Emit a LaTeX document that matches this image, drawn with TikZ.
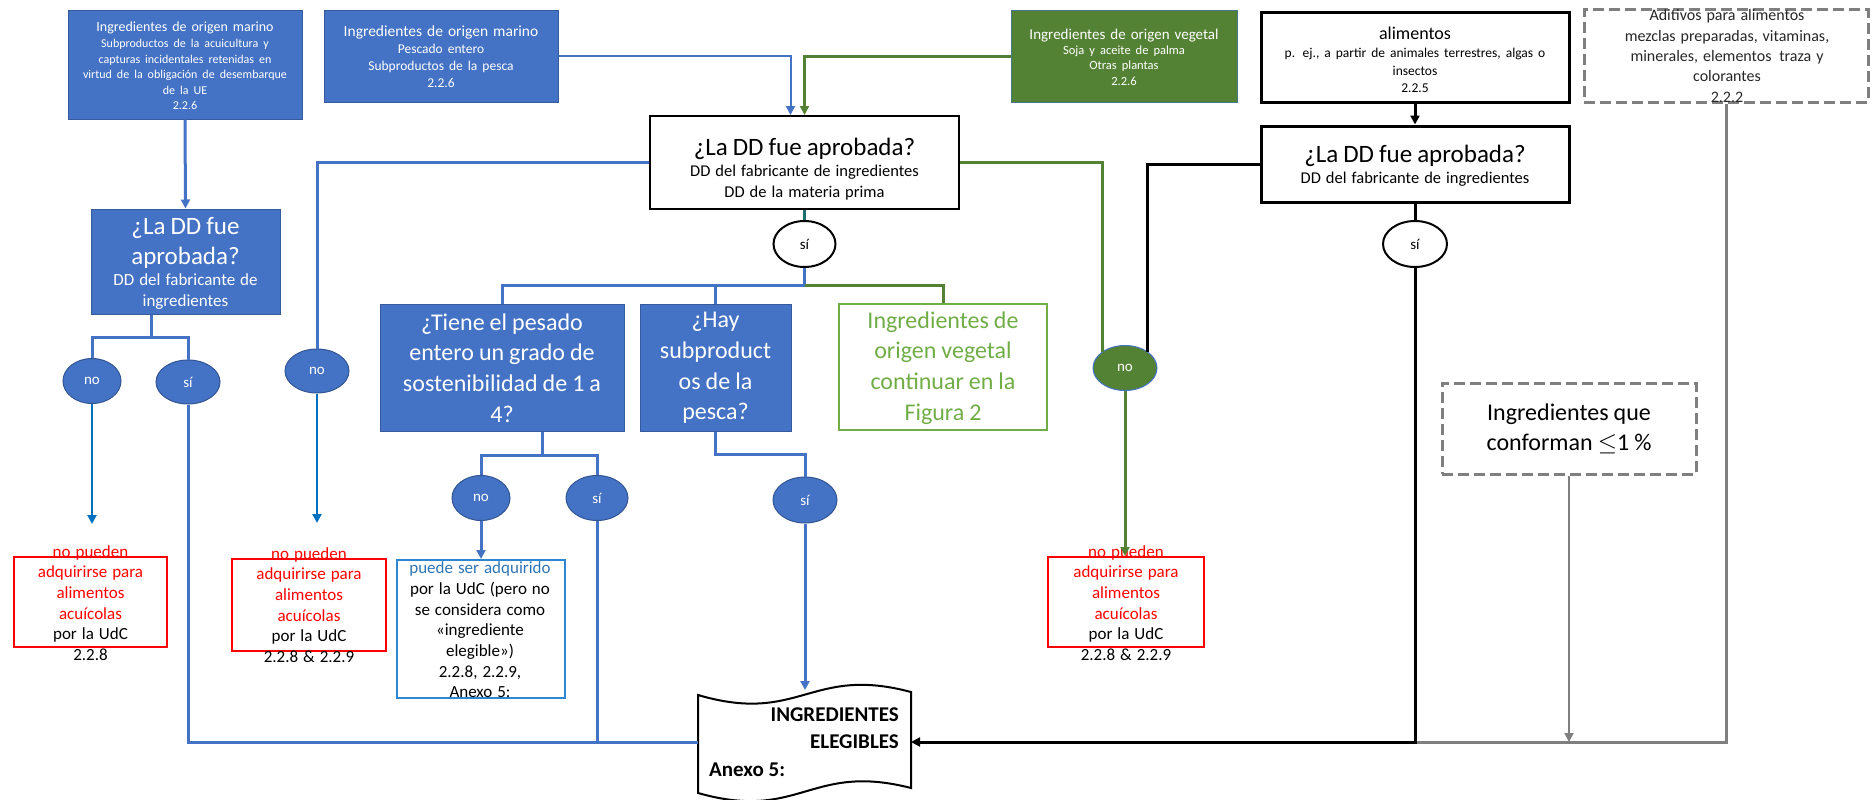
\documentclass[tikz,border=0pt]{standalone}
\usepackage{fontspec}
\setmainfont{Carlito}
\usetikzlibrary{arrows.meta,shapes.geometric,calc}
\definecolor{cblue}{HTML}{4472C4}
\definecolor{cdblue}{HTML}{0070C0}
\definecolor{cgreen}{HTML}{548235}
\definecolor{clgreen}{HTML}{70AD47}
\definecolor{cred}{HTML}{FF0000}
\definecolor{cgray}{HTML}{7F7F7F}
\definecolor{clb}{HTML}{2E86D0}
\definecolor{clbt}{HTML}{2E75B6}
\definecolor{cteal}{HTML}{1F6E6E}
\newcommand\fsz[2]{\fontsize{#1}{#2}\selectfont}
\tikzset{
  arrowhd/.style={-{Triangle[length=9pt,width=9pt]}},
  cb/.style={draw=cblue, line width=3pt},
  cbt/.style={draw=cblue, line width=2pt},
  cdb/.style={draw=cdblue, line width=2.5pt},
  cg/.style={draw=cgreen, line width=3pt},
  ck/.style={draw=black, line width=3pt},
  cgy/.style={draw=cgray, line width=3pt},
  cgyt/.style={draw=cgray, line width=2pt},
  ctl/.style={draw=cteal, line width=3pt},
  boxbase/.style={rectangle, inner sep=0pt},
  bluebox/.style={boxbase, fill=cblue, draw=cblue!80!black, line width=1pt},
  greenbox/.style={boxbase, fill=cgreen, draw=cblue!60!cgreen, line width=1pt},
  whitebox/.style={boxbase, fill=white, draw=black, line width=2pt},
  thickbox/.style={boxbase, fill=white, draw=black, line width=3pt},
  dashbox/.style={boxbase, draw=cgray, line width=3pt, dash pattern=on 11pt off 5pt},
  redbox/.style={boxbase, draw=cred, line width=2pt},
  lbbox/.style={boxbase, draw=clb, line width=2pt},
  vobox/.style={boxbase, draw=clgreen, line width=2.5pt},
  eb/.style={ellipse, inner sep=0pt, fill=cblue, draw=cblue!75!black, line width=1pt, text=white},
  ek/.style={ellipse, inner sep=0pt, fill=white, draw=black, line width=2pt},
  eg/.style={ellipse, inner sep=0pt, fill=cgreen, draw=cblue, line width=1pt, text=white},
  txt/.style={inner sep=0pt, align=center, text width=#1},
  txt/.default=320pt
}
\begin{document}
\begin{tikzpicture}[x=1pt,y=-1pt,font=\fsz{15}{18}]
\useasboundingbox (0,0) rectangle (1872,800);

% boxes
\node[bluebox, minimum width=234pt, minimum height=108pt] (A) at (185,65) {};
\node[bluebox, minimum width=234pt, minimum height=91pt] (B) at (441,56.5) {};
\node[greenbox, minimum width=226pt, minimum height=91pt] (V) at (1124,56.5) {};
\node[thickbox, minimum width=308pt, minimum height=89pt] (Al) at (1415,57.5) {};
\node[dashbox, minimum width=284pt, minimum height=92pt] (Ad) at (1726,56) {};
\node[whitebox, minimum width=309pt, minimum height=93pt] (M) at (804.5,162.5) {};
\node[thickbox, minimum width=308pt, minimum height=76pt] (M2) at (1415,164) {};
\node[bluebox, minimum width=189pt, minimum height=105pt] (C) at (185.5,261.5) {};
\node[bluebox, minimum width=244pt, minimum height=127pt] (T) at (502,367.5) {};
\node[bluebox, minimum width=151pt, minimum height=127pt] (H) at (715.5,367.5) {};
\node[vobox, minimum width=208pt, minimum height=126pt] (VO) at (943,367) {};
\node[dashbox, minimum width=254pt, minimum height=91pt] (Q) at (1569,428.5) {};
\node[redbox, minimum width=153pt, minimum height=90pt] (R1) at (90.5,602) {};
\node[redbox, minimum width=154pt, minimum height=92pt] (R2) at (309,605) {};
\node[redbox, minimum width=156pt, minimum height=90pt] (R3) at (1126,602) {};
\node[lbbox, minimum width=168pt, minimum height=138pt] (LB) at (481,629) {};

% document shape
\draw[line width=2pt, fill=white] (698,695) .. controls (800,725) and (810,665) .. (911,692)
  -- (911,788) .. controls (810,762) and (800,822) .. (698,793) -- cycle;
\coordinate (dW) at (698,742);
\coordinate (dE) at (911,742);
\coordinate (dT) at (805,690);

% ellipses
\node[ek, minimum width=62pt, minimum height=46pt] (s0) at (804.5,244) {sí};
\node[ek, minimum width=64pt, minimum height=46pt] (s5) at (1415,244) {sí};
\node[eb, minimum width=58pt, minimum height=45pt] (n1) at (92,381) {no};
\node[eb, minimum width=64pt, minimum height=44pt] (s1) at (188,382) {sí};
\node[eb, minimum width=64pt, minimum height=44pt] (n2) at (317,371) {no};
\node[eb, minimum width=58pt, minimum height=45pt] (n3) at (481,498) {no};
\node[eb, minimum width=62pt, minimum height=45pt] (s3) at (597,498) {sí};
\node[eb, minimum width=64pt, minimum height=46pt] (s4) at (805,500) {sí};
\node[eg, minimum width=64pt, minimum height=45pt] (n5) at (1125,368) {no};

% texts
\node[txt, text=white] (tA) at (185,66) {{\fsz{14}{17}Ingredientes de origen marino\par}\fsz{12}{15.6}Subproductos de la acuicultura y\\capturas incidentales retenidas en\\virtud de la obligación de desembarque\\de la UE\\2.2.6\par};
\node[txt, text=white] (tB) at (441,57) {{\fsz{15.5}{19}Ingredientes de origen marino\par}\fsz{13.5}{17}Pescado entero\\Subproductos de la pesca\\2.2.6\par};
\node[txt, text=white] (tV) at (1124,57) {{\fsz{15}{18}Ingredientes de origen vegetal\par}\fsz{12.5}{15.3}Soja y aceite de palma\\Otras plantas\\2.2.6\par};
\node[txt] (tAl) at (1415,60) {{\fsz{18}{21.7}alimentos\par}\fsz{13.5}{17.7}p. ej., a partir de animales terrestres, algas o\\insectos\\2.2.5\par};
\node[txt, text=black!85] (tAd) at (1727,56) {\fsz{16}{20.3}Aditivos para alimentos\\mezclas preparadas, vitaminas,\\minerales, elementos\, traza y\\colorantes\\2.2.2\par};
\node[txt] (tM) at (804.5,169) {{\fsz{25}{30}¿La DD fue aprobada?\par}\fsz{16.5}{20.7}DD del fabricante de ingredientes\\DD de la materia prima\par};
\node[txt] (tM2) at (1415,166) {{\fsz{25}{30}¿La DD fue aprobada?\par}\fsz{16.5}{20.7}DD del fabricante de ingredientes\par};
\node[txt, text=white] (tC) at (185.5,263) {{\fsz{25}{30.7}¿La DD fue\\aprobada?\par}\fsz{17}{20.7}DD del fabricante de\\ingredientes\par};
\node[txt, text=white] (tT) at (502,368) {\fsz{24}{30.7}¿Tiene el pesado\\entero un grado de\\sostenibilidad de 1 a\\4?\par};
\node[txt, text=white] (tH) at (715.5,368) {\fsz{24}{30.7}¿Hay\\subproduct\\os de la\\pesca?\par};
\node[txt, text=clgreen] (tVO) at (943,368) {\fsz{24}{30.7}Ingredientes de\\origen vegetal\\continuar en la\\Figura 2\par};
\node[txt] (tQ) at (1569,429) {\fsz{24}{30}Ingredientes que\\conforman \ensuremath{\leq}1 \%\par};
\node[txt] (tR1) at (90.5,603) {\fsz{17}{20.7}\color{cred}no pueden\\adquirirse para\\alimentos\\acuícolas\\\color{black}por la UdC\\2.2.8\par};
\node[txt] (tR2) at (309,605) {\fsz{17}{20.7}\color{cred}no pueden\\adquirirse para\\alimentos\\acuícolas\\\color{black}por la UdC\\2.2.8 \& 2.2.9\par};
\node[txt] (tR3) at (1126,603) {\fsz{17}{20.7}\color{cred}no pueden\\adquirirse para\\alimentos\\acuícolas\\\color{black}por la UdC\\2.2.8 \& 2.2.9\par};
\node[txt] (tLB) at (480,630) {\fsz{17}{20.7}\color{clbt}puede ser adquirido\\\color{black}por la UdC (pero no\\se considera como\\«ingrediente\\elegible»)\\2.2.8, 2.2.9,\\Anexo 5:\par};
\node[anchor=east, inner sep=0pt, font=\fsz{21}{26}\bfseries] (d1) at (899,715) {INGREDIENTES};
\node[anchor=east, inner sep=0pt, font=\fsz{21}{26}\bfseries] (d2) at (899,742) {ELEGIBLES};
\node[anchor=west, inner sep=0pt, font=\fsz{21}{26}\bfseries] (d3) at (709,770) {Anexo 5:};

% connectors
\draw[cb,arrowhd] (A.south) -- (C.north);
\draw[cbt,arrowhd] (B.east) -| ($(M.north)+(-14,0)$);
\draw[cg,arrowhd] (V.west) -| (M.north);
\draw[cb] (M.west) -| (n2.north);
\draw[cg] (M.east) -| (n5.north west);
\draw[ctl] (M.south) -- (s0.north);
\coordinate (j1) at (804.5,285);
\draw[cb] (s0.south) -- (j1) -| (T.north);
\draw[cb] (j1) -| (H.north);
\draw[cg] (j1) -| (VO.north);
\coordinate (j2) at (542,455);
\draw[cb] ($(T.south)+(40,0)$) -- (j2) -| (n3.north);
\draw[cb] (j2) -| (s3.north);
\draw[cb] (H.south) -- ++(0,23) -| (s4.north);
\draw[cb,arrowhd] (s4.south) -- (dT);
\coordinate (j3) at (151,337);
\draw[cb] ($(C.south)+(-34.5,0)$) -- (j3) -| (n1.north);
\draw[cb] (j3) -| (s1.north);
\coordinate (a1) at (92,524);
\draw[cdb,arrowhd] (n1.south) -- (a1);
\coordinate (a2) at (317,523);
\draw[cdb,arrowhd] (n2.south) -- (a2);
\draw[cb] (s1.south) |- (dW);
\draw[cb] (s3.south) -- (s3.south |- dW);
\draw[cb,arrowhd] (n3.south) -- (LB.north);
\draw[cg,arrowhd] (n5.south) -- (n5.south |- R3.north);
\draw[ck,arrowhd] (Al.south) -- (M2.north);
\draw[ck] (M2.south) -- (s5.north);
\draw[ck] (M2.west) -| (n5.north east);
\draw[cgy] (Ad.south) |- (s5.south |- dE);
\draw[cgyt,arrowhd] (Q.south) -- (Q.south |- dE);
\draw[ck,arrowhd] (s5.south) |- (dE);
\end{tikzpicture}
\end{document}
